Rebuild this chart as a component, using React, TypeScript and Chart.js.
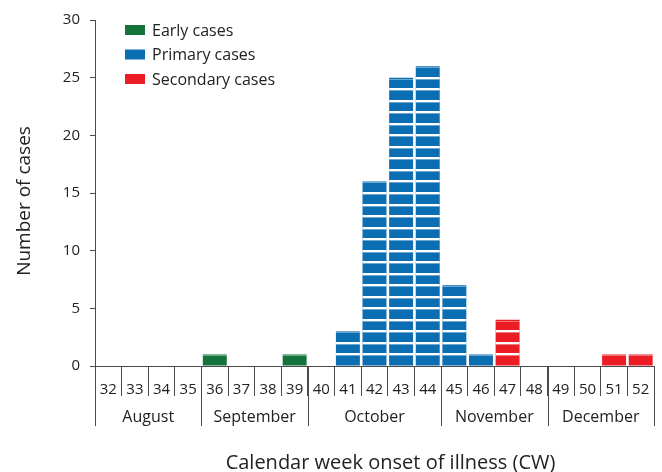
import React, { useEffect, useRef } from "react";
import { Chart, registerables } from "chart.js";

Chart.register(...registerables);

const weeks = ["32","33","34","35","36","37","38","39","40","41","42","43","44","45","46","47","48","49","50","51","52"];
const earlyCases = [null,null,null,null,1,null,null,1,null,null,null,null,null,null,null,null,null,null,null,null,null];
const primaryCases = [null,null,null,null,null,null,null,null,null,3,16,25,26,7,1,null,null,null,null,null,null];
const secondaryCases = [null,null,null,null,null,null,null,null,null,null,null,null,null,null,null,4,null,null,null,1,1];
const months = ["August","September","October","November","December"];
const monthWeekCounts = [4,4,5,4,4];
const yTicks = [0,5,10,15,20,25,30];
const xTitle = "Calendar week onset of illness (CW)";
const yTitle = "Number of cases";

const FONT = "'Open Sans', 'DejaVu Sans', sans-serif";
const AXIS_COLOR = "#4a4a4a";
const TEXT_COLOR = "#222";

const unitLinesPlugin = {
  id: "unitLines",
  afterDatasetsDraw(chart: any) {
    const ctx = chart.ctx;
    const y = chart.scales.y;
    ctx.save();
    chart.data.datasets.forEach((ds: any, di: number) => {
      const meta = chart.getDatasetMeta(di);
      meta.data.forEach((el: any, i: number) => {
        const v = ds.data[i];
        if (!v) return;
        const left = el.x - el.width / 2;
        for (let k = 1; k <= v; k++) {
          const py = y.getPixelForValue(k);
          if (k < v) {
            ctx.fillStyle = "#ffffff";
            ctx.fillRect(left, Math.round(py) - 1, el.width, 2);
          }
          ctx.fillStyle = "rgba(255,255,255,0.4)";
          ctx.fillRect(left, Math.round(py) + 1, el.width, 1);
        }
      });
    });
    ctx.restore();
  },
};

const monthsPlugin = {
  id: "months",
  afterDraw(chart: any) {
    const ctx = chart.ctx;
    const x = chart.scales.x;
    const area = chart.chartArea;
    const step = (x.getPixelForValue(1) - x.getPixelForValue(0));
    ctx.save();
    ctx.strokeStyle = AXIS_COLOR;
    ctx.lineWidth = 1;
    ctx.fillStyle = TEXT_COLOR;
    ctx.font = `16px ${FONT}`;
    ctx.textAlign = "center";
    ctx.textBaseline = "middle";
    let start = 0;
    const boundary = (idx: number) => x.getPixelForValue(idx) - step / 2;
    const drawLine = (px: number) => {
      const xx = Math.round(px) + 0.5;
      ctx.beginPath();
      ctx.moveTo(xx, area.bottom);
      ctx.lineTo(xx, area.bottom + 60);
      ctx.stroke();
    };
    drawLine(boundary(0));
    months.forEach((m, mi) => {
      const end = start + monthWeekCounts[mi];
      const l = boundary(start);
      const r = boundary(end);
      drawLine(r);
      ctx.fillText(m, (l + r) / 2, area.bottom + 51);
      start = end;
    });
    // axis titles
    ctx.font = `20px ${FONT}`;
    ctx.fillText(xTitle, (area.left + area.right) / 2 + 16, area.bottom + 97);
    ctx.save();
    ctx.translate(25, (area.top + area.bottom) / 2 + 8);
    ctx.rotate(-Math.PI / 2);
    ctx.font = `19px ${FONT}`;
    ctx.fillText(yTitle, 0, 0);
    ctx.restore();
    ctx.restore();
  },
};

const legendPlugin = {
  id: "customLegend",
  afterDraw(chart: any) {
    const ctx = chart.ctx;
    const area = chart.chartArea;
    ctx.save();
    ctx.font = `16px ${FONT}`;
    ctx.textBaseline = "middle";
    ctx.textAlign = "left";
    chart.data.datasets.forEach((ds: any, i: number) => {
      const top = area.top + 5 + i * 24.5;
      ctx.fillStyle = ds.backgroundColor;
      ctx.fillRect(area.left + 30, top, 20, 10);
      ctx.fillStyle = TEXT_COLOR;
      ctx.fillText(ds.label, area.left + 57, top + 6);
    });
    ctx.restore();
  },
};

export default function App() {
  const ref = useRef<HTMLCanvasElement>(null);
  useEffect(() => {
    if (!ref.current) return;
    const chart = new Chart(ref.current, {
      type: "bar",
      data: {
        labels: weeks,
        datasets: [
          { label: "Early cases", data: earlyCases, backgroundColor: "#13733b" },
          { label: "Primary cases", data: primaryCases, backgroundColor: "#0b6db2" },
          { label: "Secondary cases", data: secondaryCases, backgroundColor: "#ec1c24" },
        ] as any,
      },
      options: {
        animation: false,
        responsive: false,
        layout: { padding: { top: 20, right: 8, left: 0, bottom: 0 } },
        datasets: { bar: { barPercentage: 0.9, categoryPercentage: 1, borderWidth: 0 } } as any,
        plugins: { legend: { display: false }, tooltip: { enabled: false } },
        scales: {
          x: {
            stacked: true,
            grid: { offset: true, drawOnChartArea: false, tickLength: 30, color: AXIS_COLOR, lineWidth: 1 },
            border: { display: true, color: AXIS_COLOR, width: 1 },
            ticks: { color: TEXT_COLOR, font: { family: FONT, size: 15 }, padding: -15, maxRotation: 0, autoSkip: false },
            afterFit(scale: any) { scale.height = 106; },
          },
          y: {
            stacked: true,
            min: 0,
            max: 30,
            afterBuildTicks(scale: any) { scale.ticks = yTicks.map((v) => ({ value: v })); },
            grid: { drawOnChartArea: false, tickLength: 5, color: AXIS_COLOR, lineWidth: 1 },
            border: { display: true, color: AXIS_COLOR, width: 1 },
            ticks: { color: TEXT_COLOR, font: { family: FONT, size: 15 }, padding: 10 },
            afterFit(scale: any) { scale.width = 95; },
          },
        },
      } as any,
      plugins: [unitLinesPlugin, monthsPlugin, legendPlugin],
    });
    return () => chart.destroy();
  }, []);
  return (
    <div style={{ position: "absolute", left: 0, top: 0, width: 662, height: 472, background: "#fff" }}>
      <canvas ref={ref} width={662} height={472} style={{ display: "block" }} />
    </div>
  );
}
